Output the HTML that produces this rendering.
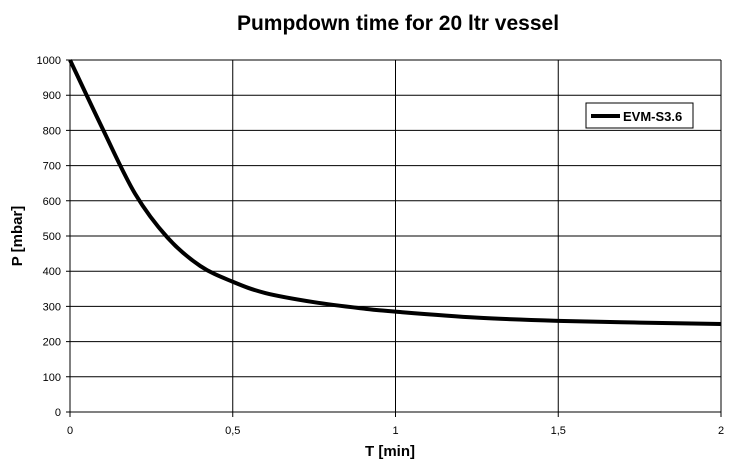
<!DOCTYPE html>
<html><head><meta charset="utf-8"><style>
body{margin:0;background:#fff;font-family:"Liberation Sans",Arial,sans-serif}
</style></head><body>
<svg id="chart" width="738" height="471" viewBox="0 0 738 471">
<text x="398" y="30" text-anchor="middle" font-size="21" font-weight="bold">Pumpdown time for 20 ltr vessel</text>
<g id="grid"></g>
<g id="ticks" font-size="11"></g>
<text x="390" y="456" text-anchor="middle" font-size="15" font-weight="bold">T [min]</text>
<text transform="translate(22,236) rotate(-90)" text-anchor="middle" font-size="15" font-weight="bold">P [mbar]</text>
<path id="line" fill="none" stroke="#000" stroke-width="4" stroke-linejoin="round"/>
<g>
<rect x="586" y="103" width="107" height="25" fill="#fff" stroke="#000" stroke-width="1"/>
<line x1="591" y1="116" x2="620" y2="116" stroke="#000" stroke-width="4"/>
<text x="623" y="121" font-size="13" font-weight="bold">EVM-S3.6</text>
</g>
</svg>
<script>
const xTicks=[0,0.5,1,1.5,2];
const xTickLabels=["0","0,5","1","1,5","2"];
const yTicks=[0,100,200,300,400,500,600,700,800,900,1000];
const times=[0,0.1,0.2,0.3,0.4,0.5,0.6,0.75,0.9,1,1.25,1.5,1.75,2];
const pressures=[1000,805,620,495,415,370,338,312,294,285,268,259,254,250];
const X0=70,X1=721,Y0=412,Y1=60;
function sx(v){return X0+(v-0)/(2-0)*(X1-X0);}
function sy(v){return Y0-(v/1000)*(Y0-Y1);}
const NS="http://www.w3.org/2000/svg";
const grid=document.getElementById('grid'),ticks=document.getElementById('ticks');
yTicks.forEach(v=>{
 const l=document.createElementNS(NS,'line');
 l.setAttribute('x1',X0-4);l.setAttribute('x2',X1);l.setAttribute('y1',sy(v));l.setAttribute('y2',sy(v));
 l.setAttribute('stroke','#000');l.setAttribute('stroke-width','1');
 
 
 grid.appendChild(l);
 const t=document.createElementNS(NS,'text');
 t.setAttribute('x',X0-9);t.setAttribute('y',sy(v)+4);t.setAttribute('text-anchor','end');t.textContent=v;
 
 
 ticks.appendChild(t);
});
xTicks.forEach((v,i)=>{
 const l=document.createElementNS(NS,'line');
 l.setAttribute('x1',sx(v));l.setAttribute('x2',sx(v));l.setAttribute('y1',Y1);l.setAttribute('y2',Y0+5);
 l.setAttribute('stroke','#000');l.setAttribute('stroke-width','1');
 
 
 grid.appendChild(l);
 const t=document.createElementNS(NS,'text');
 t.setAttribute('x',sx(v));t.setAttribute('y',Y0+22);t.setAttribute('text-anchor','middle');t.textContent=xTickLabels[i];
 
 
 ticks.appendChild(t);
});
const pts=times.map((t,i)=>[sx(t),sy(pressures[i])]);
let d='M'+pts[0][0]+','+pts[0][1];
for(let i=0;i<pts.length-1;i++){
 const p0=pts[Math.max(0,i-1)],p1=pts[i],p2=pts[i+1],p3=pts[Math.min(pts.length-1,i+2)];
 const c1=[p1[0]+(p2[0]-p0[0])/6,p1[1]+(p2[1]-p0[1])/6];
 const c2=[p2[0]-(p3[0]-p1[0])/6,p2[1]-(p3[1]-p1[1])/6];
 d+=' C'+c1+' '+c2+' '+p2;
}
document.getElementById('line').setAttribute('d',d);
</script>
</body></html>
